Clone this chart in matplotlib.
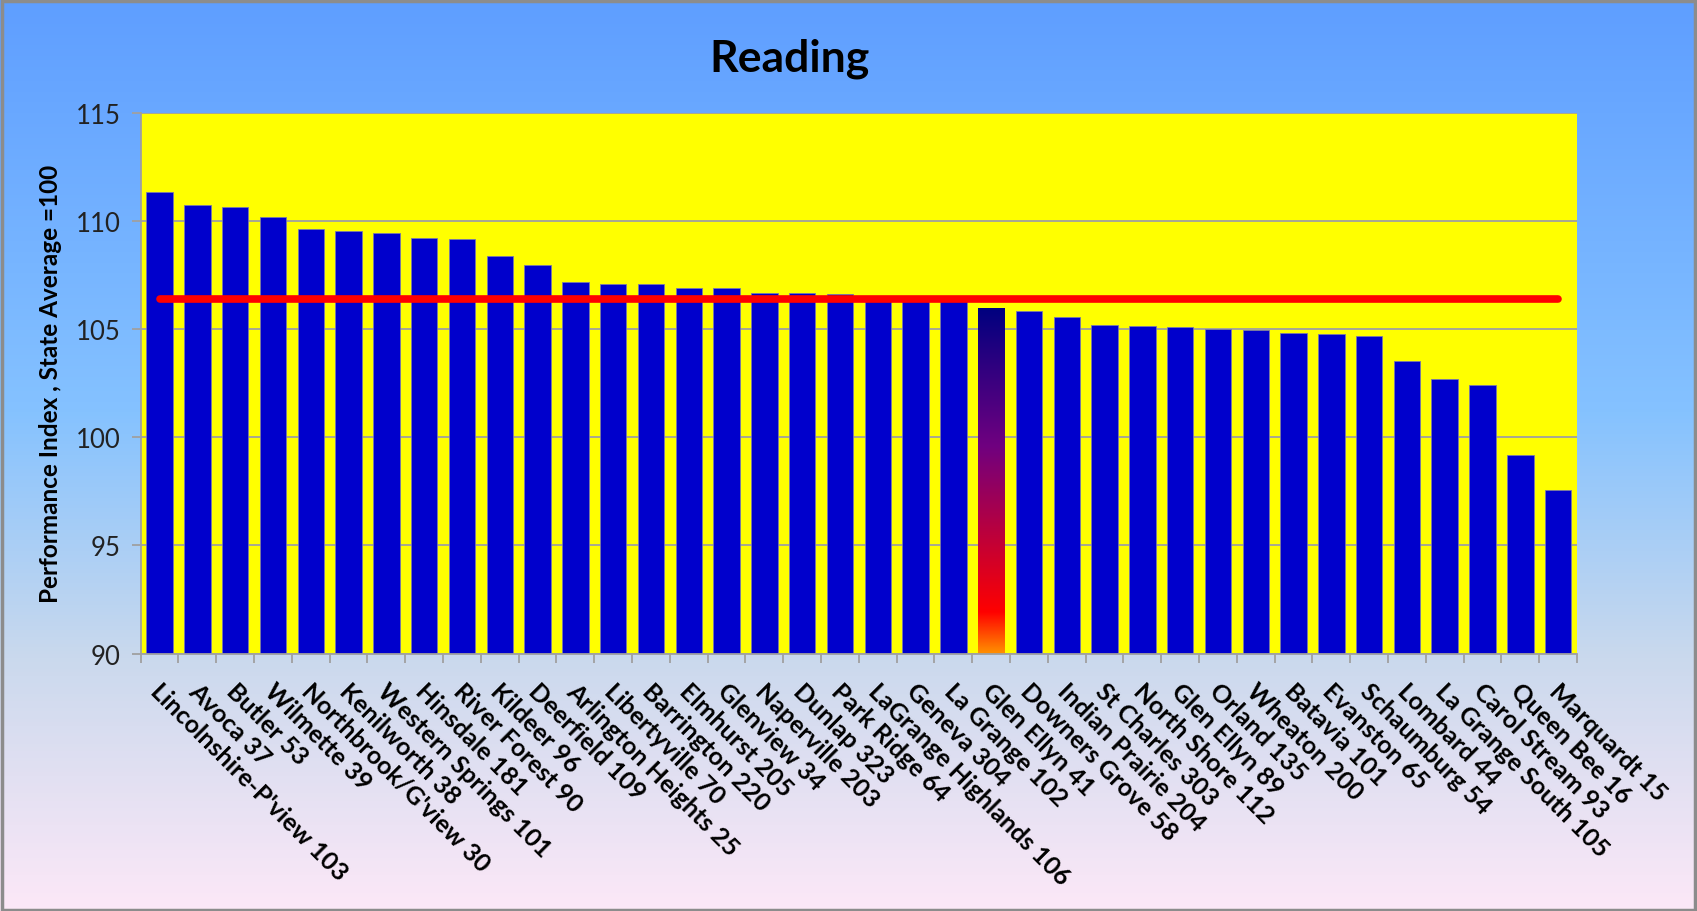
import numpy as np
import matplotlib
matplotlib.use('Agg')
import matplotlib.pyplot as plt
from matplotlib.colors import LinearSegmentedColormap
from matplotlib.patches import Rectangle
from matplotlib.transforms import ScaledTranslation

# data
districts = ["Lincolnshire-P'view 103", "Avoca 37", "Butler 53", "Wilmette 39",
             "Northbrook/G'view 30", "Kenilworth 38", "Western Springs 101",
             "Hinsdale 181", "River Forest 90", "Kildeer 96", "Deerfield 109",
             "Arlington Heights 25", "Libertyville 70", "Barrington 220",
             "Elmhurst 205", "Glenview 34", "Naperville 203", "Dunlap 323",
             "Park Ridge 64", "LaGrange Highlands 106", "Geneva 304",
             "La Grange 102", "Glen Ellyn 41", "Downers Grove 58",
             "Indian Prairie 204", "St Charles 303", "North Shore 112",
             "Glen Ellyn 89", "Orland 135", "Wheaton 200", "Batavia 101",
             "Evanston 65", "Schaumburg 54", "Lombard 44", "La Grange South 105",
             "Carol Stream 93", "Queen Bee 16", "Marquardt 15"]
scores = [111.33, 110.73, 110.62, 110.2, 109.61, 109.55, 109.43, 109.2, 109.15,
          108.37, 107.95, 107.18, 107.1, 107.1, 106.92, 106.92, 106.67, 106.67,
          106.62, 106.45, 106.4, 106.35, 105.96, 105.85, 105.56, 105.2, 105.14,
          105.08, 105.01, 104.97, 104.84, 104.78, 104.66, 103.53, 102.7, 102.41,
          99.2, 97.54]
avg_line = 106.4
highlight = "Glen Ellyn 41"
y_ticks = [90, 95, 100, 105, 110, 115]

plt.rcParams['font.family'] = ['Lato', 'DejaVu Sans']

fig = plt.figure(figsize=(16.97, 9.12), dpi=100)

# background gradient
bg = fig.add_axes([0, 0, 1, 1], zorder=-10)
bg_cmap = LinearSegmentedColormap.from_list('bg', [
    (0.0, (0.37, 0.62, 1.0)),
    (0.45, (0.52, 0.76, 1.0)),
    (0.72, (0.79, 0.85, 0.93)),
    (1.0, (0.99, 0.91, 0.97))])
bg.imshow(np.linspace(0, 1, 256).reshape(-1, 1), aspect='auto', cmap=bg_cmap,
          extent=[0, 1, 0, 1], origin='upper')
bg.set_axis_off()
fig.patches.append(Rectangle((0.001, 0.001), 0.998, 0.997, transform=fig.transFigure,
                             fill=False, edgecolor='#8c8c8c', linewidth=2.5))

ax = fig.add_axes([0.0829, 0.2823, 0.8464, 0.5930])
ax.set_facecolor('#ffff00')

x = np.arange(len(districts))
bars = ax.bar(x, [s - 90 for s in scores], bottom=90, width=0.7, color='#0000cc',
              edgecolor='#7a7aa8', linewidth=0.6, zorder=2)

# gradient fill on the highlighted district
hi = districts.index(highlight)
hb = bars[hi]
hb.set_facecolor('none')
fire = LinearSegmentedColormap.from_list('fire', [
    (0.0, '#000080'), (0.4, '#70007f'), (0.88, '#ff0000'), (1.0, '#ff9000')])
img = ax.imshow(np.linspace(0, 1, 256).reshape(-1, 1), aspect='auto', cmap=fire,
                extent=[hb.get_x(), hb.get_x() + hb.get_width(), 90, scores[hi]],
                origin='upper', zorder=2)
img.set_clip_path(hb)

ax.plot([x[0], x[-1]], [avg_line, avg_line], color='#ff0000', linewidth=5.5,
        solid_capstyle='round', zorder=3)

ax.set_xlim(-0.5, len(districts) - 0.5)
ax.set_ylim(90, 115)
ax.set_yticks(y_ticks)
ax.yaxis.grid(True, color='#a0a0a0', linewidth=1.3, zorder=1)
ax.set_axisbelow(True)

for s in ['top', 'right']:
    ax.spines[s].set_visible(False)
for s in ['left', 'bottom']:
    ax.spines[s].set_color('#a0a0a0')
    ax.spines[s].set_linewidth(1.3)

ax.tick_params(axis='y', length=6.5, width=1.3, color='#a0a0a0', pad=8,
               labelsize=18.5, labelcolor='#222222')
ax.set_xticks(x)
ax.set_xticks(np.arange(-0.5, len(districts)), minor=True)
ax.tick_params(axis='x', which='major', length=0, pad=18)
ax.tick_params(axis='x', which='minor', length=6.5, width=1.3, color='#a0a0a0')
ax.set_xticklabels(districts, rotation=-45, ha='left', va='top',
                   rotation_mode='anchor', fontsize=18, fontweight='bold')
shift = ScaledTranslation(3 / 100, 0, fig.dpi_scale_trans)
for lab in ax.get_xticklabels():
    lab.set_transform(lab.get_transform() + shift)

ax.set_ylabel('Performance Index , State Average =100', fontsize=17.5,
              fontweight='bold')
ax.yaxis.set_label_coords(-0.055, 0.5)

fig.text(0.4655, 0.9214, 'Reading', ha='center', va='baseline', fontsize=32,
         fontweight='bold')

fig.savefig('out.png', dpi=100)
